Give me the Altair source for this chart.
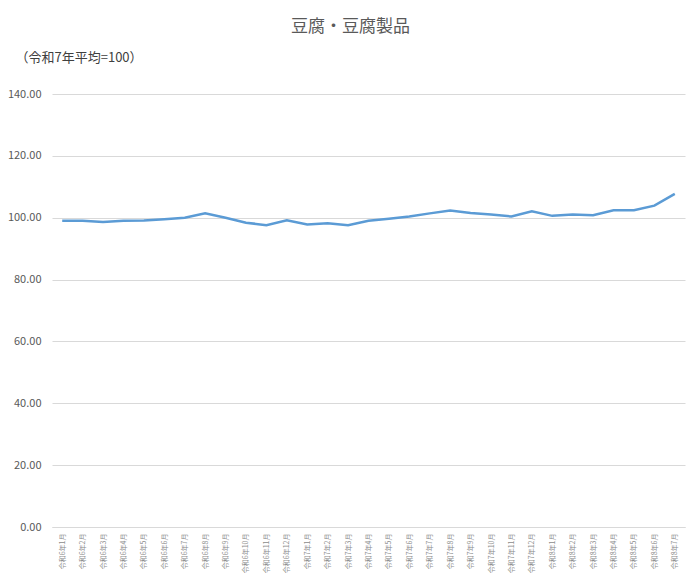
import altair as alt
import pandas as pd

months = [
    "令和6年1月", "令和6年2月", "令和6年3月", "令和6年4月", "令和6年5月", "令和6年6月",
    "令和6年7月", "令和6年8月", "令和6年9月", "令和6年10月", "令和6年11月", "令和6年12月",
    "令和7年1月", "令和7年2月", "令和7年3月", "令和7年4月", "令和7年5月", "令和7年6月",
    "令和7年7月", "令和7年8月", "令和7年9月", "令和7年10月", "令和7年11月", "令和7年12月",
    "令和8年1月", "令和8年2月", "令和8年3月", "令和8年4月", "令和8年5月", "令和8年6月",
    "令和8年7月",
]
values = [
    99.0, 99.0, 98.6, 99.0, 99.1, 99.5,
    100.0, 101.4, 100.0, 98.4, 97.6, 99.2,
    97.8, 98.2, 97.6, 99.0, 99.7, 100.4,
    101.4, 102.3, 101.5, 101.0, 100.4, 102.1,
    100.6, 101.0, 100.8, 102.4, 102.4, 103.9,
    107.7,
]

df = pd.DataFrame({"month": months, "value": values})

FONT = "Noto Sans CJK JP"

chart = alt.Chart(df).mark_line(color="#5B9BD5", strokeWidth=2.5).encode(
    x=alt.X(
        "month:N",
        sort=months,
        scale=alt.Scale(type="point", padding=0.5),
        axis=alt.Axis(
            title=None,
            labelAngle=270,
            labelFontSize=7,
            labelColor="#8c8c8c",
            labelFont=FONT,
            labelPadding=6,
            labelOverlap=False,
            ticks=False,
            domain=True,
            domainColor="#d9d9d9",
            grid=False,
        ),
    ),
    y=alt.Y(
        "value:Q",
        scale=alt.Scale(domain=[0, 140], nice=False),
        axis=alt.Axis(
            values=[0, 20, 40, 60, 80, 100, 120, 140],
            format=".2f",
            title="（令和7年平均=100）",
            titleAngle=0,
            titleAlign="left",
            titleBaseline="middle",
            titleX=-37,
            titleY=-37,
            titleFont=FONT,
            titleFontSize=13,
            titleFontWeight="normal",
            titleColor="#404040",
            labelFont=FONT,
            labelFontSize=11,
            labelColor="#595959",
            labelPadding=11,
            ticks=False,
            domain=False,
            grid=True,
            gridColor="#d9d9d9",
            gridWidth=1,
        ),
    ),
).properties(
    width=633,
    height=433,
    autosize=alt.AutoSizeParams(type="none"),
    padding={"left": 44, "top": 86, "right": 7, "bottom": 54},
    title=alt.TitleParams(
        text="豆腐・豆腐製品",
        font=FONT,
        fontSize=17,
        fontWeight="normal",
        color="#595959",
        anchor="middle",
        dx=-18,
        offset=15,
    ),
).configure(background="white").configure_view(stroke=None)

chart.save("out.html", embed_options={"renderer": "svg", "actions": False})
